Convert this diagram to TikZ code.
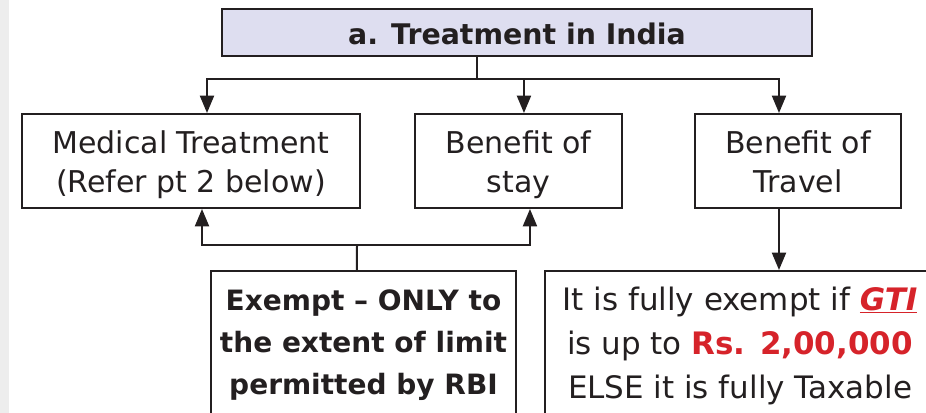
\documentclass[tikz,border=0pt]{standalone}
\usepackage{fontspec}
\setmainfont{DejaVu Sans}
\usetikzlibrary{arrows.meta}
\definecolor{ink}{RGB}{35,31,32}
\definecolor{hilite}{RGB}{214,35,42}
\definecolor{headfill}{RGB}{222,222,240}
% taller strut for the first line, so the text sits a little lower in its box
\newcommand\tallstrut{\rule{0pt}{26.3pt}}
\begin{document}
\begin{tikzpicture}[x=0.75pt,y=-0.75pt,
  every node/.style={text=ink},
  box/.style={draw=ink,line width=1.5pt,fill=white,inner sep=0pt,align=center,
    font=\fontsize{22.5}{29}\selectfont},
  headbox/.style={box,fill=headfill,font=\fontsize{21.3}{29}\selectfont\bfseries},
  link/.style={draw=ink,line width=1.5pt},
  arr/.style={link,-{Triangle[length=13pt,width=10.5pt]}}]
\useasboundingbox (0,0) rectangle (926,413);
\clip (0,0) rectangle (926,413);
\fill[white] (0,0) rectangle (926,413);
\fill[black!7] (0,0) rectangle (9,413);

% boxes
\node[headbox,minimum width=590*0.75pt,minimum height=45*0.75pt] (title) at (517,32.5) {\tallstrut a. Treatment in India\strut};
\node[box,minimum width=338*0.75pt,minimum height=94*0.75pt] (med) at (191,161) {\tallstrut Medical Treatment\\(Refer pt 2 below)\strut};
\node[box,minimum width=207*0.75pt,minimum height=94*0.75pt] (stay) at (518.5,161) {\tallstrut Benefit of\\stay\strut};
\node[box,minimum width=206*0.75pt,minimum height=94*0.75pt] (travel) at (798,161) {\tallstrut Benefit of\\Travel\strut};
\node[box,font=\fontsize{21}{31.5}\selectfont\bfseries,minimum width=305*0.75pt,minimum height=149*0.75pt] (rbi) at (363.5,345.5)
  {Exempt -- ONLY to\\the extent of limit\\permitted by RBI};
\node[box,font=\fontsize{23.2}{33}\selectfont,minimum width=390*0.75pt,minimum height=149*0.75pt] (gti) at (740,345.5)
  {It is fully exempt if \textcolor{hilite}{\bfseries\itshape\underline{GTI}}\\
   is up to \textcolor{hilite}{\bfseries Rs. 2,00,000}\\
   ELSE it is fully Taxable};

% top bus
\coordinate (bus) at (477,79);
\draw[link] (title.south -| bus) -- (bus);
\draw[arr] (bus) -| ([xshift=12pt]med.north);
\draw[arr] (bus) -| ([xshift=4.1pt]stay.north);
\draw[arr] (bus) -| ([xshift=-14.25pt]travel.north);

% bottom bus
\coordinate (low) at (357,245);
\draw[link] ([xshift=-4.9pt]rbi.north) -- (low);
\draw[arr] (low) -| ([xshift=8.25pt]med.south);
\draw[arr] (low) -| ([xshift=8.6pt]stay.south);
\draw[arr] ([xshift=-14.25pt]travel.south) -- ([xshift=-14.25pt]travel.south |- gti.north);
\end{tikzpicture}
\end{document}
